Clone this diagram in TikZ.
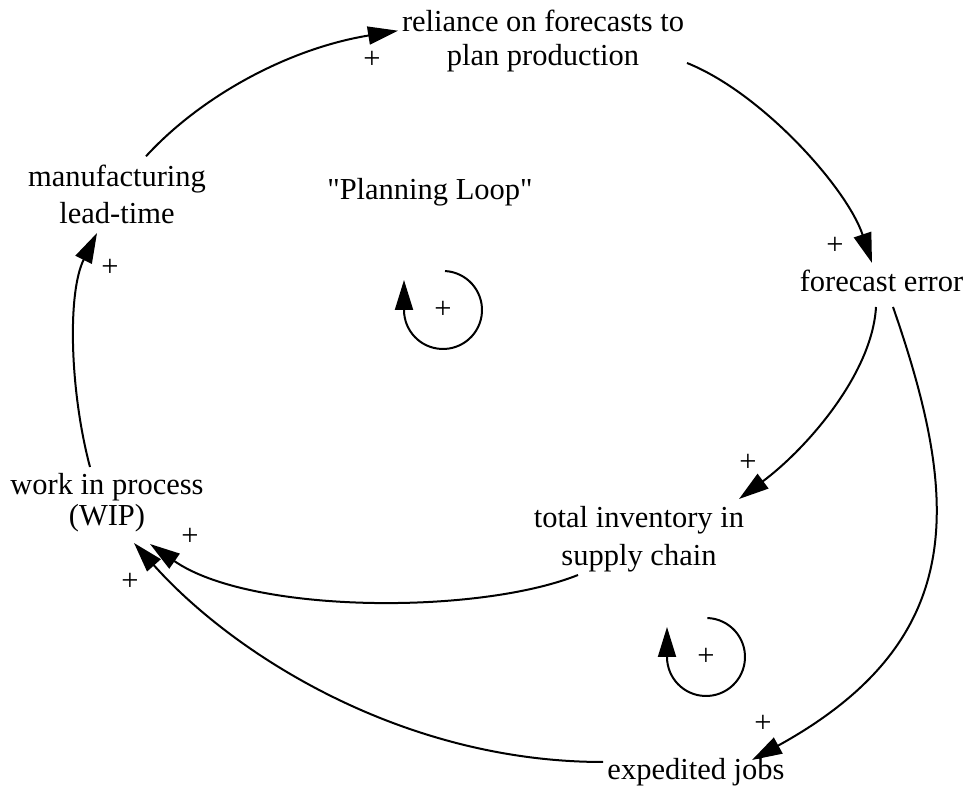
\documentclass[tikz,border=0pt]{standalone}
\usepackage{fontspec}
\setmainfont{Liberation Serif}
\usetikzlibrary{arrows.meta}
\begin{document}
\begin{tikzpicture}[x=1pt,y=1pt,
  lbl/.style={font=\fontsize{30.5}{35}\selectfont, inner sep=0pt, align=center},
  pol/.style={font=\fontsize{30.5}{35}\selectfont, inner sep=0pt},
  link/.style={line width=2pt, -{Triangle[length=30pt,width=18pt]}}
]
\useasboundingbox (0,0) rectangle (969,799);
% variables
\node[lbl] (rel) at (543,757.3) {reliance on forecasts to\strut\\[-1pt]plan production\strut};
\node[lbl] (mlt) at (117,600.7) {manufacturing\strut\\[2pt]lead-time\strut};
\node[lbl] (wip) at (107,295.5) {work in process\strut\\[-4pt](WIP)\strut};
\node[lbl] (inv) at (639,259) {total inventory in\strut\\[3pt]supply chain\strut};
\node[lbl] (fe) at (881.5,514) {forecast error\strut};
\node[lbl] (exp) at (696,26) {expedited jobs\strut};
\node[lbl] (title) at (430,606) {\textquotedbl Planning Loop\textquotedbl\strut};
% polarities
\node[pol] (p1) at (372,739) {+};
\node[pol] (p2) at (835,553) {+};
\node[pol] (p3) at (748,336) {+};
\node[pol] (p4) at (763,75) {+};
\node[pol] (p5) at (190,262) {+};
\node[pol] (p6) at (130,217) {+};
\node[pol] (p7) at (110,531) {+};
\node[pol] (loopA) at (443,489) {+};
\node[pol] (loopB) at (706,142) {+};
% links
\draw[link] ([shift={(29,42)}]mlt.center) .. controls +(55,60) and +(-110,-18) .. ([shift={(-145,11)}]rel.center);
\draw[link] ([shift={(144,-21.3)}]rel.center) .. controls +(75,-30) and +(-25,75) .. ([shift={(-9.5,22)}]fe.center);
\draw[link] ([shift={(-5.5,-22)}]fe.center) .. controls +(-4,-68) and +(66,49) .. ([shift={(100,41)}]inv.center);
\draw[link] ([shift={(11.5,-22)}]fe.center) .. controls +(67,-193) and +(218,120) .. ([shift={(56,13)}]exp.center);
\draw[link] ([shift={(-61,-35)}]inv.center) .. controls +(-100,-40) and +(100,-70) .. ([shift={(43,-40.5)}]wip.center);
\draw[link] ([shift={(-93,11)}]exp.center) .. controls +(-200,0) and +(100,-112) .. ([shift={(27,-39.5)}]wip.center);
\draw[link] ([shift={(-17,36.5)}]wip.center) .. controls +(-20,75) and +(-30,-60) .. ([shift={(-20,-34.7)}]mlt.center);
% loop markers
\draw[link] ([shift={(87:39)}]loopA.center) arc[start angle=87, end angle=-180, radius=39] -- ++(0,30);
\draw[link] ([shift={(88:39)}]loopB.center) arc[start angle=88, end angle=-180, radius=39] -- ++(0,30);
\end{tikzpicture}
\end{document}
